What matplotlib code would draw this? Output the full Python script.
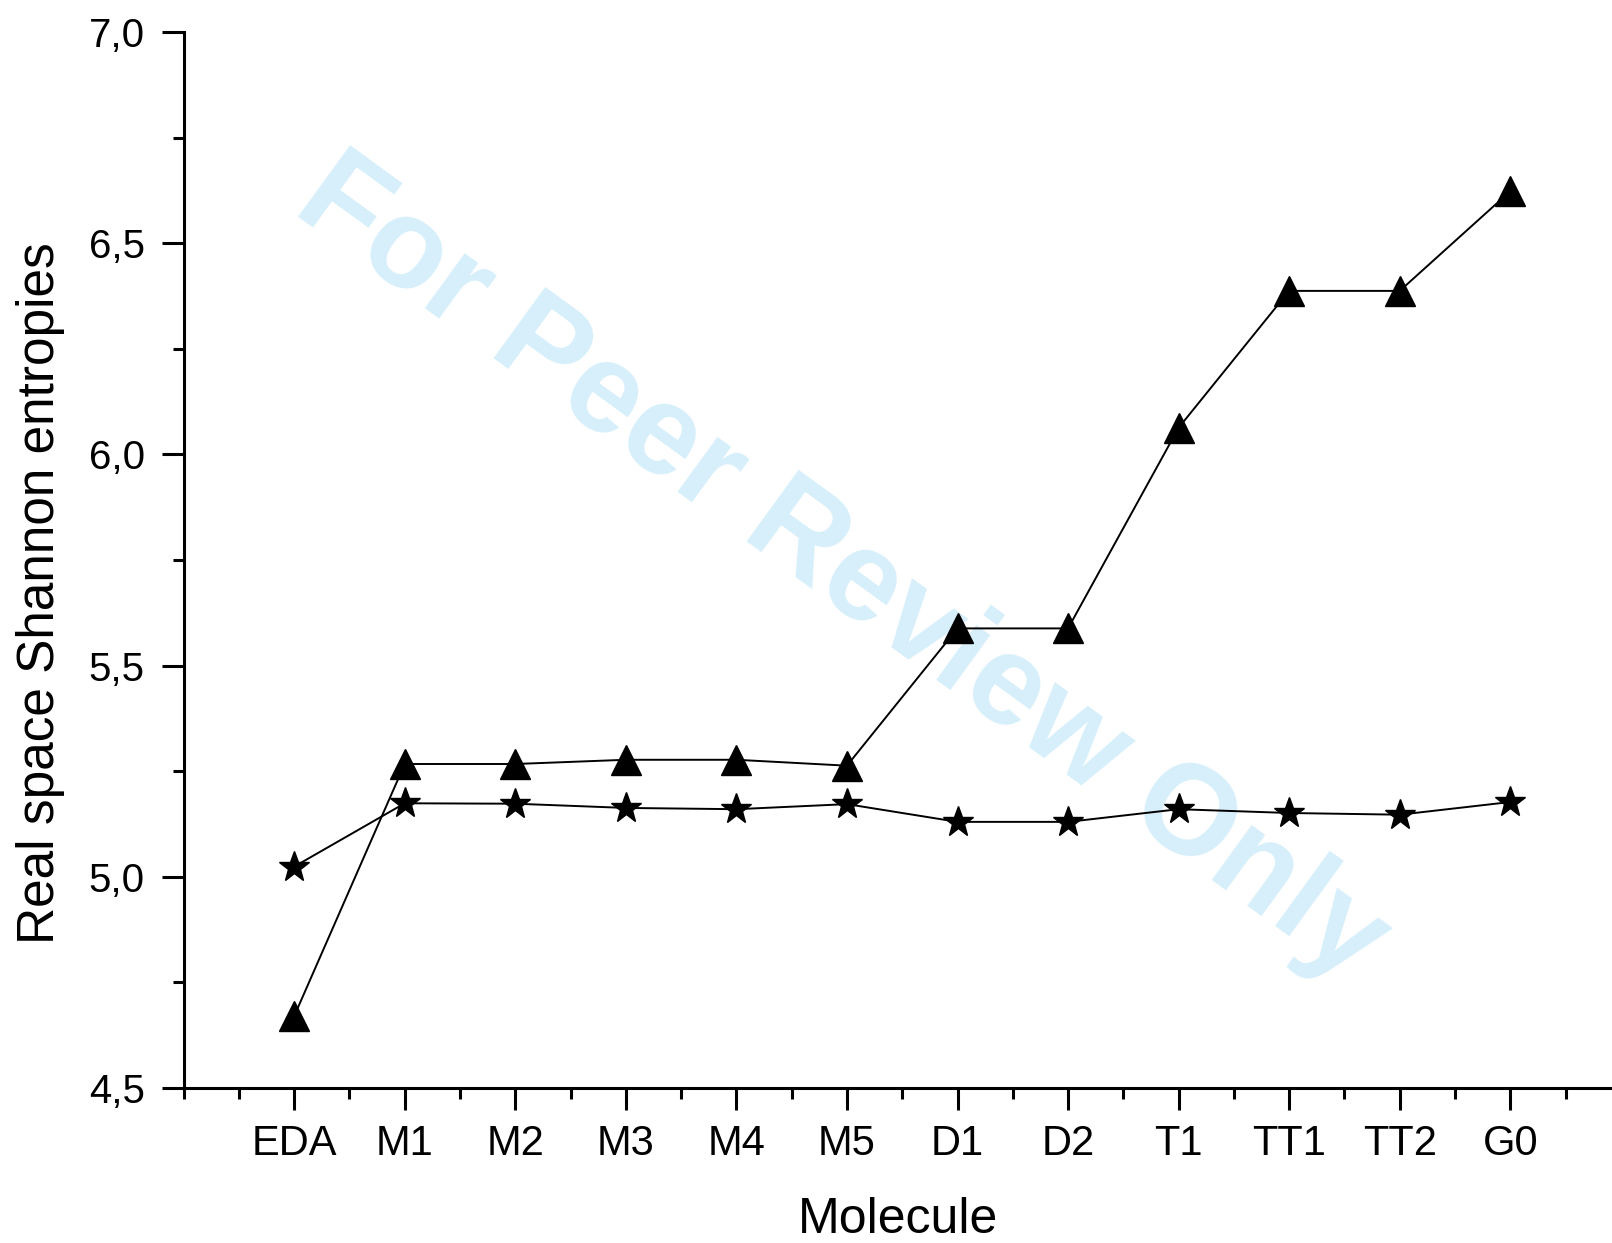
import matplotlib
matplotlib.use('Agg')
import matplotlib.pyplot as plt
from matplotlib.ticker import MultipleLocator, FuncFormatter

plt.rcParams['font.family'] = ['Liberation Sans', 'DejaVu Sans']

molecules = ['EDA', 'M1', 'M2', 'M3', 'M4', 'M5', 'D1', 'D2', 'T1', 'TT1', 'TT2', 'G0']
# triangles
s_upper = [4.67, 5.267, 5.267, 5.277, 5.277, 5.263, 5.588, 5.588, 6.063, 6.387, 6.387, 6.623]
# stars
s_lower = [5.024, 5.174, 5.173, 5.163, 5.160, 5.172, 5.130, 5.130, 5.160, 5.151, 5.147, 5.177]

x = list(range(1, len(molecules) + 1))

fig = plt.figure(figsize=(16.12, 12.43), dpi=100)
ax = fig.add_axes([0.1139, 0.1247, 0.8861, 0.8496])

# watermark behind the data
ax.text(0.522, 0.541, 'For Peer Review Only', fontsize=92, fontweight='bold',
        color='#d6effb', rotation=-36, ha='center', va='center',
        rotation_mode='anchor', transform=fig.transFigure, zorder=0, clip_on=False)

ax.plot(x, s_upper, '-', color='black', lw=1.4, marker='^', ms=22, zorder=3)
ax.plot(x, s_lower, '-', color='black', lw=1.4, marker='*', ms=23, zorder=3)

ax.set_xlim(0, 12.92)
ax.set_ylim(4.5, 7.0)
ax.set_xticks(x)
ax.set_xticklabels(molecules)
ax.xaxis.set_minor_locator(MultipleLocator(0.5))
ax.yaxis.set_major_locator(MultipleLocator(0.5))
ax.yaxis.set_minor_locator(MultipleLocator(0.25))
ax.yaxis.set_major_formatter(FuncFormatter(lambda v, p: ('%.1f' % v).replace('.', ',')))

for side in ['top', 'right']:
    ax.spines[side].set_visible(False)
for side in ['left', 'bottom']:
    ax.spines[side].set_linewidth(2.2)

ax.tick_params(which='major', direction='out', length=16, width=2.2, labelsize=29, pad=12)
ax.tick_params(which='minor', direction='out', length=8, width=2.2)
ax.tick_params(axis='x', which='major', labelsize=30, pad=10)

ax.set_xlabel('Molecule', fontsize=36, labelpad=24)
ax.set_ylabel('Real space Shannon entropies', fontsize=37)
ax.yaxis.set_label_coords(-0.083, 0.469)
ax.patch.set_alpha(0)

fig.savefig('out.png', dpi=100)
